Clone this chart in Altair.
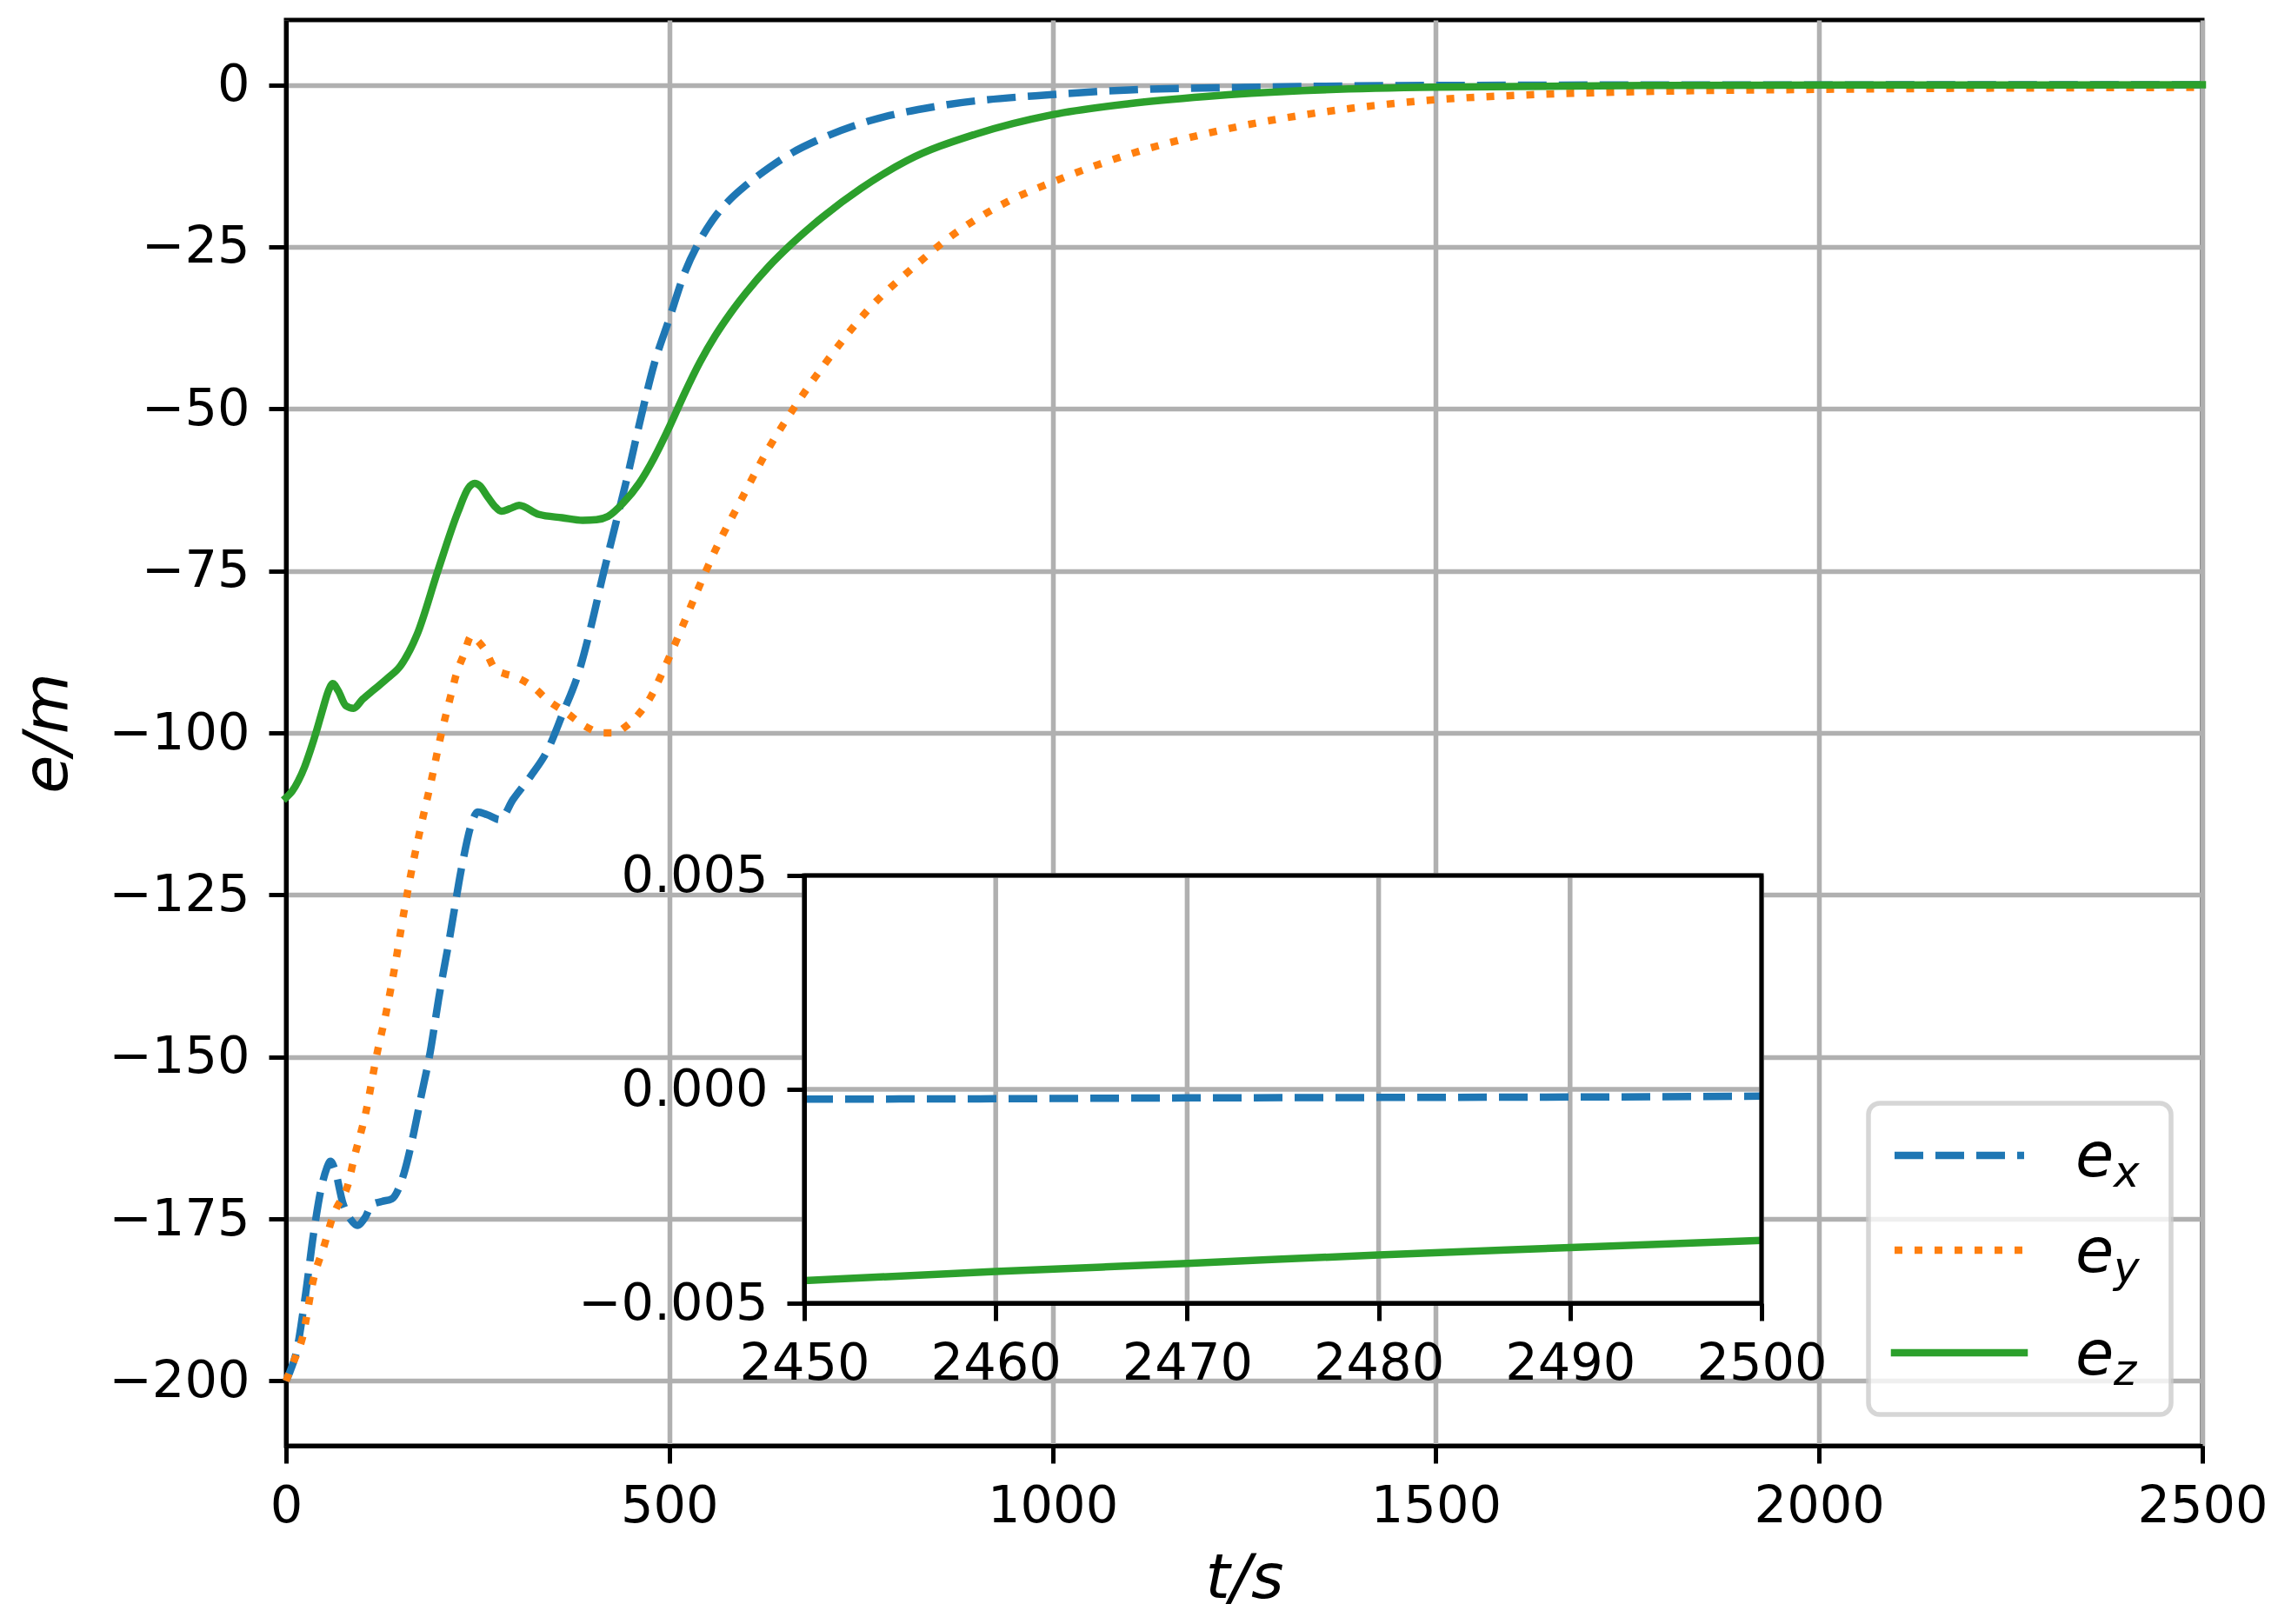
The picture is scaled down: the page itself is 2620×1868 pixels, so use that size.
import altair as alt
import pandas as pd

# ---------------- data ----------------
t_ex = [0, 6, 13, 25, 36, 46, 53, 58, 64, 74, 85, 93, 103, 112, 125, 138, 154, 165, 176, 188,
        199, 214, 230, 241, 250, 262, 279, 296, 319, 341, 360, 383, 398, 413, 428, 444, 463, 480, 500, 520,
        540, 560, 580, 600, 630, 660, 700, 760, 850, 1000, 1100, 1250, 1500, 1800, 2100, 2500]
ex = [-200, -198.3, -195.8, -187, -177.2, -170.2, -167.2, -166.1, -167.5, -172.5,
      -175.2, -176, -174.8, -172.8, -172.3, -171.9, -167.9, -162.6, -156.2, -149.3,
      -141.1, -131.2, -120.2, -114.4, -112.2, -112.6, -113.4, -110.3, -106.7, -102.7,
      -97.3, -90.2, -83.5, -75.9, -68.7, -61.1, -51.3, -43.2, -36.1, -29.0,
      -24.0, -20.3, -17.6, -15.5, -12.8, -10.5, -8.2, -5.6, -3.3, -1.5,
      -0.8, -0.4, -0.1, -0.03, -0.01, -0.0002]

t_ey = [0, 10, 21, 36, 50, 62, 68, 74, 80, 89, 104, 119, 131, 142, 154, 165, 176, 190, 202, 215,
        222, 232, 242, 250, 260, 273, 286, 298, 321, 343, 366, 389, 413, 430, 440, 460, 476, 489, 500, 512,
        523, 534, 546, 560, 593, 628, 663, 702, 758, 823, 866, 940, 1000, 1060, 1120, 1180, 1240, 1330, 1420, 1500,
        1610, 1750, 2000, 2250, 2500]
ey = [-200, -197, -193.5, -184.2, -179, -174.3, -172.8, -171.7, -170, -165.5,
      -158.6, -149.3, -142.9, -136, -127.5, -120.5, -114.4, -107.1, -100.4, -94.2,
      -91, -87.9, -85, -85.8, -87.3, -90.2, -90.9, -91.3, -92.8, -95.1,
      -96.9, -98.9, -100, -100, -99.3, -97.1, -94.4, -91.2, -88.3, -85.0,
      -81.9, -78.8, -75.5, -71.8, -64.2, -56.4, -49.8, -43.2, -34.9, -27.7,
      -23.5, -18.1, -15.0, -12.3, -10.0, -8.1, -6.5, -4.6, -3.2, -2.3,
      -1.6, -1.1, -0.7, -0.5, -0.4]

t_ez = [0, 8, 16, 24, 32, 40, 48, 55, 61, 68, 78, 88, 100, 115, 133, 149, 171, 198, 224, 238,
        246, 253, 262, 272, 281, 292, 304, 330, 360, 387, 405, 420, 440, 460, 480, 500, 520, 540, 560, 580,
        600, 630, 660, 700, 750, 810, 900, 1000, 1100, 1200, 1326, 1500, 1800, 2100, 2500]
ez = [-110, -109, -107.4, -105.3, -102.6, -99.6, -96.3, -93.6, -92.4, -93.5,
      -95.8, -96.2, -94.8, -93.3, -91.5, -89.7, -84.8, -75, -66, -62.2,
      -61.5, -61.9, -63.4, -65, -65.8, -65.4, -64.9, -66.3, -66.8, -67.2,
      -67.1, -66.6, -64.5, -61.6, -57.6, -52.8, -47.6, -42.8, -38.7, -35.2,
      -32.1, -28.0, -24.5, -20.4, -16.0, -11.7, -7.6, -4.6, -2.9, -1.8,
      -0.9, -0.36, -0.1, -0.03, -0.004]

# inset (zoom on 2450..2500 s)
t_in = [2450, 2460, 2470, 2480, 2490, 2500]
ex_in = [-0.00023, -0.00022, -0.00020, -0.00019, -0.00018, -0.00016]
ez_in = [-0.00447, -0.00426, -0.00407, -0.00387, -0.00370, -0.00353]

x_ticks = [0, 500, 1000, 1500, 2000, 2500]
y_ticks = [-200, -175, -150, -125, -100, -75, -50, -25, 0]
inset_x_ticks = [2450, 2460, 2470, 2480, 2490, 2500]
inset_y_ticks = [-0.005, 0.0, 0.005]
series_subs = ["x", "y", "z"]

# ---------------- styling / layout ----------------
FONT = "DejaVu Sans"
W, H = 2204, 1640
BLUE, ORANGE, GREEN = "#1f77b4", "#ff7f0e", "#2ca02c"
LW = 8.5
DASH = [33, 14]
DOT = [9, 14]
GRID = "#b0b0b0"

main_x = alt.Scale(domain=[0, 2500], nice=False, zero=False)
main_y = alt.Scale(domain=[-210, 10], nice=False, zero=False)

x_axis = alt.Axis(orient="bottom", values=x_ticks, format="d", title="t/s", labelPadding=20,
                  titleX=W / 2, titleY=174, titleAlign="center", titleBaseline="alphabetic",
                  labelFlush=False, labelOverlap=False, grid=True)
y_axis = alt.Axis(orient="left", values=y_ticks, format="d", title="e/m", labelPadding=22,
                  titleX=-253, titleY=H / 2, titleAngle=270, titleAlign="center",
                  titleBaseline="alphabetic", labelFlush=False, labelOverlap=False, grid=True)


def main_series(t, v, color, dash=None, axes=False):
    df = pd.DataFrame({"t": t, "v": v})
    kw = dict(color=color, strokeWidth=LW, interpolate="monotone")
    if dash:
        kw["strokeDash"] = dash
    else:
        kw["strokeCap"] = "square"
    return alt.Chart(df).mark_line(**kw).encode(
        x=alt.X("t:Q", scale=main_x, axis=x_axis if axes else None),
        y=alt.Y("v:Q", scale=main_y, axis=y_axis if axes else None),
    )


layers = [
    main_series(t_ex, ex, BLUE, DASH, axes=True),
    main_series(t_ey, ey, ORANGE, DOT),
    main_series(t_ez, ez, GREEN),
]

# ---------------- inset ----------------
in_x = alt.Scale(domain=[inset_x_ticks[0], inset_x_ticks[-1]], range=[596, 1697], nice=False, zero=False)
in_y = alt.Scale(domain=[inset_y_ticks[0], inset_y_ticks[-1]], range=[1476, 984], nice=False, zero=False)
in_x_axis = alt.Axis(orient="bottom", offset=-164, values=inset_x_ticks, format="d", grid=False,
                     title=None, labelPadding=20, zindex=1, labelFlush=False, labelOverlap=False)
in_y_axis = alt.Axis(orient="left", offset=-596, values=inset_y_ticks, format=".3f", grid=False,
                     title=None, labelPadding=22, zindex=1, labelFlush=False, labelOverlap=False)

bounds = pd.DataFrame({"x0": [inset_x_ticks[0]], "x1": [inset_x_ticks[-1]],
                       "y0": [inset_y_ticks[0]], "y1": [inset_y_ticks[-1]]})

layers.append(alt.Chart(bounds).mark_rect(fill="white", strokeWidth=0).encode(
    x=alt.X("x0:Q", scale=in_x, axis=in_x_axis), x2="x1",
    y=alt.Y("y0:Q", scale=in_y, axis=in_y_axis), y2="y1"))

vg = pd.DataFrame({"t": inset_x_ticks, "lo": inset_y_ticks[0], "hi": inset_y_ticks[-1]})
layers.append(alt.Chart(vg).mark_rule(color=GRID, strokeWidth=5.5).encode(
    x=alt.X("t:Q", scale=in_x, axis=None),
    y=alt.Y("lo:Q", scale=in_y, axis=None), y2="hi"))

hg = pd.DataFrame({"v": inset_y_ticks, "lo": inset_x_ticks[0], "hi": inset_x_ticks[-1]})
layers.append(alt.Chart(hg).mark_rule(color=GRID, strokeWidth=5.5).encode(
    x=alt.X("lo:Q", scale=in_x, axis=None), x2="hi",
    y=alt.Y("v:Q", scale=in_y, axis=None)))


def inset_series(v, color, dash=None):
    df = pd.DataFrame({"t": t_in, "v": v})
    kw = dict(color=color, strokeWidth=LW, interpolate="monotone", clip=True)
    if dash:
        kw["strokeDash"] = dash
    return alt.Chart(df).mark_line(**kw).encode(
        x=alt.X("t:Q", scale=in_x, axis=None),
        y=alt.Y("v:Q", scale=in_y, axis=None))


layers.append(inset_series(ex_in, BLUE, DASH))
layers.append(inset_series(ez_in, GREEN))
layers.append(alt.Chart(bounds).mark_rect(filled=False, color="black", stroke="black", strokeWidth=5).encode(
    x=alt.X("x0:Q", scale=in_x, axis=None), x2="x1",
    y=alt.Y("y0:Q", scale=in_y, axis=None), y2="y1"))

# ---------------- legend (hand-built so that subscripts can be drawn) ----------------
one = pd.DataFrame({"k": [0]})
layers.append(
    alt.Chart(one).mark_rect(cornerRadius=13, fill="white", fillOpacity=0.8,
                             stroke="#cccccc", strokeOpacity=0.8, strokeWidth=5.5).encode(
        x=alt.value(1820), x2=alt.value(2168), y=alt.value(1246), y2=alt.value(1604))
)
row_line_y = [1306, 1415, 1533]
row_text_y = [1330, 1440, 1558]
styles = [(BLUE, DASH), (ORANGE, DOT), (GREEN, None)]
for i, sub in enumerate(series_subs):
    color, dash = styles[i]
    kw = dict(color=color, strokeWidth=LW)
    if dash:
        kw["strokeDash"] = dash
    else:
        kw["strokeCap"] = "square"
    layers.append(
        alt.Chart(one).mark_rule(**kw).encode(
            x=alt.value(1850), x2=alt.value(1999), y=alt.value(row_line_y[i]))
    )
    layers.append(
        alt.Chart(one).mark_text(text="e", font=FONT, fontStyle="italic", fontSize=72,
                                 align="left", baseline="alphabetic", color="black").encode(
            x=alt.value(2058), y=alt.value(row_text_y[i]))
    )
    layers.append(
        alt.Chart(one).mark_text(text=sub, font=FONT, fontStyle="italic", fontSize=50,
                                 align="left", baseline="alphabetic", color="black").encode(
            x=alt.value(2102), y=alt.value(row_text_y[i] + 12))
    )

chart = alt.layer(*layers).resolve_scale(x="independent", y="independent").properties(
    width=W, height=H,
    autosize=alt.AutoSizeParams(type="none"),
    padding={"left": 321, "top": 15, "right": 78, "bottom": 194},
    background="white",
).configure_view(stroke="black", strokeWidth=5).configure_axis(
    domainColor="black", domainWidth=5, tickColor="black", tickWidth=5, tickSize=20,
    gridColor=GRID, gridWidth=5.5, gridOpacity=1,
    labelFont=FONT, labelFontSize=59, labelColor="black", labelLimit=600,
    titleFont=FONT, titleFontSize=72, titleFontStyle="italic", titleFontWeight="normal",
    titleColor="black", titleLimit=800,
)

chart.save("out.html", embed_options={"renderer": "svg", "actions": False})
